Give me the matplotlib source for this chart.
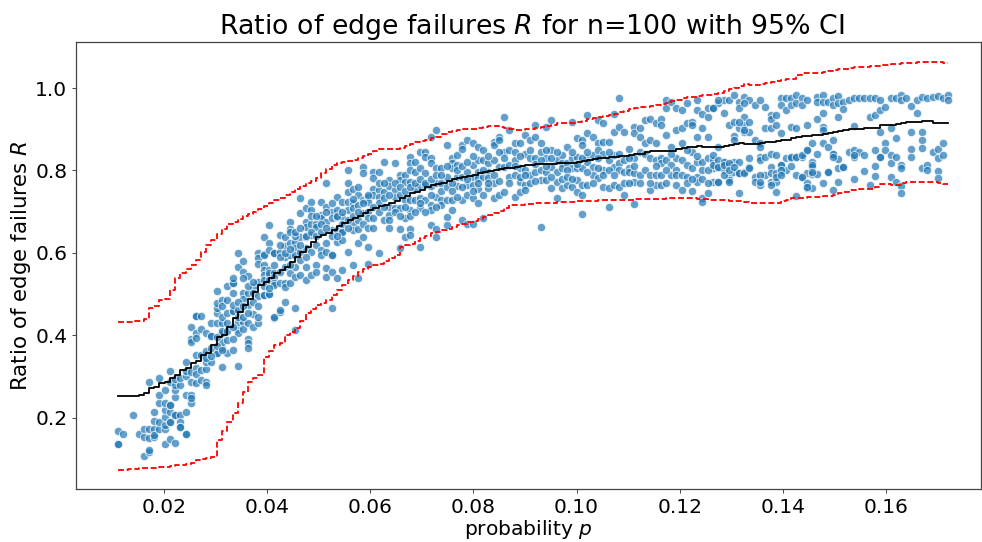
import matplotlib
matplotlib.use("Agg")
import matplotlib.pyplot as plt

p_grid = [
0.0110,0.0120,0.0130,0.0140,0.0151,0.0161,0.0171,0.0181,0.0191,0.0201,
0.0211,0.0221,0.0232,0.0242,0.0252,0.0262,0.0272,0.0282,0.0292,0.0302,
0.0313,0.0323,0.0333,0.0343,0.0353,0.0363,0.0373,0.0383,0.0394,0.0404,
0.0414,0.0424,0.0434,0.0444,0.0454,0.0464,0.0475,0.0485,0.0495,0.0505,
0.0515,0.0525,0.0535,0.0545,0.0556,0.0566,0.0576,0.0586,0.0596,0.0606,
0.0616,0.0626,0.0637,0.0647,0.0657,0.0667,0.0677,0.0687,0.0697,0.0707,
0.0718,0.0728,0.0738,0.0748,0.0758,0.0768,0.0778,0.0788,0.0799,0.0809,
0.0819,0.0829,0.0839,0.0849,0.0859,0.0869,0.0880,0.0890,0.0900,0.0910,
0.0920,0.0930,0.0940,0.0950,0.0961,0.0971,0.0981,0.0991,0.1001,0.1011,
0.1021,0.1031,0.1042,0.1052,0.1062,0.1072,0.1082,0.1092,0.1102,0.1112,
0.1123,0.1133,0.1143,0.1153,0.1163,0.1173,0.1183,0.1193,0.1204,0.1214,
0.1224,0.1234,0.1244,0.1254,0.1264,0.1274,0.1285,0.1295,0.1305,0.1315,
0.1325,0.1335,0.1345,0.1355,0.1366,0.1376,0.1386,0.1396,0.1406,0.1416,
0.1426,0.1436,0.1447,0.1457,0.1467,0.1477,0.1487,0.1497,0.1507,0.1517,
0.1528,0.1538,0.1548,0.1558,0.1568,0.1578,0.1588,0.1598,0.1609,0.1619,
0.1629,0.1639,0.1649,0.1659,0.1669,0.1679,0.1690,0.1700,0.1710,0.1720]

r_cols = [
[.168,.135,.135],[.161],[],[.207],[.160],[.173,.154,.108],[.173,.150,.286,.117,.121],
[.173,.154,.192,.214,.158],[.173,.190,.236,.254,.295],[.173,.182,.202,.219,.236,.267,.136],
[.190,.190,.213,.231,.231,.287,.313,.147],[.206,.249,.267,.279,.293,.139,.206],
[.206,.190,.178,.178,.279,.295],[.161,.161,.214,.254,.301,.312,.336],
[.235,.254,.248,.310,.286,.392,.383,.421],[.320,.305,.285,.351,.406,.394,.447,.447],
[.316,.291,.351,.414,.447],[.317,.287,.278,.361,.336,.406],[.336,.398,.398,.429],
[.358,.358,.429,.453,.465,.479,.508],[.370,.384,.324,.405,.429,.485,.471,.445],
[.356,.388,.429,.455,.485,.519],[.364,.458,.458,.473,.527,.527,.540,.502],
[.325,.414,.405,.433,.461,.600,.566],[.433,.414,.502,.487,.579,.554],
[.430,.390,.380,.370,.502,.473,.544],[.419,.451,.518,.502],[.429,.443,.530,.494,.599,.587,.574],
[.498,.597,.570,.558,.546,.639,.595,.534,.497],[.499,.499,.625,.607,.558,.546,.668,.550,.534],
[.441,.599,.550,.599,.542,.526,.522,.445],[.643,.603,.554,.526,.457,.461],
[.639,.616,.591,.566,.526,.481,.518],[.676,.659,.651,.623,.595,.550,.526],
[.627,.611,.595,.566,.542,.465,.413],[.732,.696,.639,.603,.582,.546],
[.708,.676,.663,.639,.611,.566,.534],[.724,.704,.671,.643,.603,.546],
[.671,.663,.619,.570,.554],[.724,.692,.684,.607,.595],[.769,.712,.676,.623,.603,.562,.542],
[.700,.684,.655,.595,.595,.554,.465],[.736,.704,.688,.655,.627,.538],
[.724,.688,.651,.651,.631,.558],[.801,.769,.748,.724,.704,.603],[.756,.720,.708,.671,.655,.570],
[.740,.716,.680,.659,.623,.538],[.809,.793,.728,.696,.639],[.736,.724,.700,.684,.615,.574],
[.797,.781,.756,.740,.684],[.797,.752,.736,.720,.599],[.821,.748,.732,.680],
[.777,.761,.712,.692,.680],[.817,.752,.736,.708],[.789,.777,.740,.708,.659,.611],
[.789,.773,.728,.684,.639],[.833,.817,.801,.773,.728,.704,.659,.643],[.821,.797,.756,.728],
[.845,.805,.765,.732,.708,.615],[.845,.833,.793,.765,.728],[.882,.829,.817,.761,.716,.704,.667],
[.898,.805,.769,.736,.659,.639],[.805,.769,.728,.716],[.862,.785,.728,.688,.667],
[.829,.817,.805,.728,.704],[.837,.813,.785,.761],[.862,.853,.785,.728,.680],
[.874,.797,.765,.740,.671],[.866,.813,.785,.765,.732,.671],[.858,.825,.797,.781,.756],
[.850,.825,.785,.740,.684],[.817,.797,.781,.757],[.870,.862,.825,.769,.732],
[.882,.874,.809,.740],[.930,.845,.809,.748],[.898,.850,.813,.785],[.866,.825,.789,.736],
[.866,.805,.773,.748],[.886,.841,.801,.765,.752],[.874,.829,.789,.769],[.910,.882,.829,.797],
[.866,.845,.801,.777,.663],[.906,.829,.797,.777],[.922,.850,.809,.757],[.825,.797,.773,.732],
[.837,.817,.805,.757],[.857,.817,.765],[.918,.829,.805,.760],[.878,.833,.805,.777,.748],
[.874,.862,.805,.765,.740,.693],[.934,.890,.829,.821,.765],[.882,.837,.809,.789],
[.922,.866,.850,.781],[.914,.870,.841,.801,.760],[.870,.825,.757,.710],
[.938,.894,.837,.809,.765],[.975,.906,.817,.801,.760],[.894,.797,.740],[.853,.805,.797],
[.906,.890,.829,.793,.773,.718],[.902,.882,.845],[.922,.866,.841],[.926,.874,.829,.752],
[.914,.866,.825,.765],[.926,.910,.829,.817,.765],[.971,.951,.886,.825],[.967,.858,.813,.789],
[.951,.898,.829,.765],[.946,.902,.866,.825,.752],[.963,.914,.813],[.918,.910,.845,.805],
[.971,.946,.882,.821,.785,.773],[.938,.902,.821,.732,.724],[.951,.930,.882,.829,.744],
[.951,.825,.805,.773],[.963,.858,.809,.773],[.971,.939,.821,.801],[.971,.910,.813,.785,.777],
[.983,.918,.821,.797],[.967,.951,.902,.821,.793,.746],[.979,.930,.910,.894,.797],
[.971,.918,.894,.829,.809],[.959,.874,.785,.773],[.971,.866,.858,.833,.825,.765],
[.955,.902,.833,.789],[.934,.926,.902,.841,.809,.773],[.934,.910,.837,.773,.748],
[.975,.959,.890,.813,.797],[.975,.947,.829,.801],[.975,.959,.906,.829,.811],
[.983,.963,.902,.833,.789,.739],[.975,.959,.833,.785],[.972,.910,.849,.793,.757],
[.866,.821,.809,.791,.757],[.979,.967,.926,.841,.791],[.983,.967,.939,.906,.898,.866,.769],
[.967,.858,.797],[.975,.959,.874,.840,.752],[.980,.963,.930,.827,.805,.773],[.967,.948,.809],
[.971,.845],[.975,.908,.849,.833,.778],[.976,.845],[.975,.837,.798],[.976,.930,.764],
[.975,.934,.849,.811,.786],[.971,.947,.894,.833],[.955,.866,.849],[.976,.902,.837,.817,.785],
[.976,.878,.833,.773],[.983,.971,.813,.805,.761,.746],[.976],[.956,.894,.851,.833],[.972,.940],
[.979,.894,.874,.855,.805],[.975,.813,.801],[.979,.845],[.981,.851,.829,.799,.781],
[.975,.866,.837],[.983,.972]]

# further points of the cloud, by column of p_grid
extra_k = [17,18,18,19,19,20,20,21,22,22,23,23,24,24,24,25,25,26,26,27,28,29,30,
31,31,32,33,33,34,34,35,35,36,36,37,37,38,38,39,39,40,40,41,41,42,42,43,43,44,44,45,45,46,46,47,47,48,48,49,49,
50,50,51,51,52,52,53,53,54,54,55,55,56,56,57,57,58,58,59,59,60,60,61,61,62,62,63,63,64,64,65,65,66,66,67,67,68,68,69,69,
70,71,71,72,73,73,74,75,76,76,77,77,78,79,80,80,81,82,82,83,83,84,85,86,86,87,87,88,89,90,90,91,92,92,93,94,94,95,96,97,97,98,98,99,
100,100,101,102,102,103,103,104,105,105,106,107,107,108,109,109,109,110,110,111,112,112,113,113,
114,114,114,115,115,115,115,116,116,116,117,117,117,118,118,118,119,119,120,120,120,121,123,123,125,125,126,126,127,127,127,
129,130,131,131,132,132,132,133,133,136,137,137,139,141,146]
extra_r = [.345,.350,.370,.395,.375,.410,.365,.410,.420,.390,.445,.480,.470,.445,.540,.520,.455,.480,.530,.470,.520,.515,.570,
.590,.620,.600,.610,.570,.640,.650,.620,.660,.590,.640,.690,.650,.640,.690,.650,.670,.660,.700,.640,.720,.690,.640,.700,.670,.660,.680,.690,.730,.700,.760,.720,.670,.740,.660,.710,.660,
.700,.770,.710,.770,.740,.660,.700,.770,.690,.760,.710,.750,.760,.690,.700,.770,.780,.720,.770,.700,.780,.740,.790,.710,.750,.790,.760,.810,.770,.750,.735,.800,.760,.810,.820,.780,.750,.835,.770,.720,
.800,.835,.770,.790,.775,.845,.830,.770,.845,.810,.835,.785,.790,.850,.815,.775,.825,.850,.810,.830,.785,.845,.780,.800,.785,.845,.780,.815,.830,.795,.845,.770,.830,.805,.790,.845,.800,.790,.840,.825,.770,.830,.770,.810,
.790,.770,.800,.790,.770,.810,.790,.790,.800,.770,.840,.800,.790,.790,.850,.785,.770,.780,.750,.835,.800,.780,.800,.770,
.951,.837,.813,.971,.825,.809,.773,.821,.813,.789,.817,.801,.773,.884,.874,.809,.918,.793,.963,.898,.793,.805,.789,.773,.793,.765,.793,.785,.813,.801,.789,
.833,.833,.837,.785,.849,.769,.760,.813,.797,.797,.841,.833,.809,.837,.833]

mean_r = [
.252,.252,.253,.253,.254,.259,.271,.274,.283,.287,.295,.303,.315,.320,.332,.338,.352,.358,.376,.396,
.400,.421,.441,.457,.473,.489,.506,.522,.530,.538,.550,.558,.566,.578,.591,.603,.615,.627,.639,.643,
.647,.656,.665,.673,.680,.685,.689,.697,.704,.709,.714,.717,.720,.726,.732,.738,.744,.748,.752,.759,
.765,.768,.770,.775,.779,.782,.785,.787,.789,.793,.797,.799,.801,.803,.805,.807,.809,.810,.812,.814,
.815,.815,.816,.816,.817,.818,.818,.819,.820,.822,.825,.827,.829,.831,.832,.833,.835,.836,.837,.839,
.841,.844,.846,.846,.847,.847,.848,.851,.854,.856,.858,.859,.858,.857,.857,.858,.859,.862,.864,.866,
.865,.864,.864,.866,.868,.870,.872,.874,.875,.878,.882,.883,.884,.885,.886,.889,.892,.894,.896,.898,
.900,.901,.901,.902,.903,.904,.910,.910,.911,.913,.915,.917,.918,.918,.919,.919,.916,.916,.916,.916]

upper_r = [
.433,.433,.433,.434,.435,.439,.465,.470,.485,.487,.510,.538,.550,.560,.570,.582,.603,.619,.631,.645,
.658,.670,.676,.682,.689,.695,.700,.706,.714,.721,.728,.734,.740,.748,.756,.762,.769,.775,.781,.793,
.803,.813,.817,.820,.824,.826,.829,.835,.841,.847,.853,.853,.852,.852,.855,.859,.863,.868,.872,.875,
.879,.882,.888,.894,.896,.898,.900,.900,.900,.903,.905,.907,.908,.905,.902,.900,.898,.899,.900,.901,
.902,.905,.908,.911,.914,.914,.914,.914,.918,.921,.924,.927,.929,.932,.934,.938,.942,.945,.948,.951,
.953,.955,.957,.959,.961,.964,.968,.972,.975,.977,.979,.981,.983,.984,.985,.989,.993,.997,1.001,1.005,
1.009,1.008,1.007,1.009,1.012,1.014,1.017,1.020,1.022,1.023,1.032,1.036,1.036,1.036,1.036,1.038,1.041,1.043,1.045,1.047,
1.049,1.050,1.051,1.052,1.053,1.054,1.055,1.057,1.058,1.059,1.060,1.061,1.061,1.062,1.063,1.064,1.063,1.062,1.061,1.061]

lower_r = [
.073,.074,.075,.076,.077,.078,.077,.077,.079,.081,.083,.084,.086,.087,.091,.097,.100,.102,.104,.146,
.168,.190,.212,.235,.263,.287,.295,.303,.348,.362,.376,.382,.400,.408,.417,.435,.453,.463,.473,.479,
.485,.498,.510,.522,.534,.544,.554,.560,.566,.570,.574,.581,.588,.595,.615,.618,.621,.628,.635,.641,
.647,.651,.655,.659,.663,.667,.671,.675,.678,.683,.688,.692,.696,.702,.708,.716,.716,.717,.718,.719,
.720,.721,.722,.722,.723,.723,.724,.724,.725,.725,.726,.726,.727,.727,.728,.728,.728,.729,.729,.730,
.730,.730,.731,.731,.731,.732,.732,.732,.732,.732,.732,.731,.730,.729,.728,.727,.727,.726,.726,.725,
.723,.721,.720,.720,.721,.721,.722,.725,.729,.732,.733,.734,.735,.736,.736,.737,.739,.740,.744,.748,
.752,.753,.754,.755,.755,.760,.766,.766,.765,.765,.769,.773,.773,.773,.773,.773,.771,.770,.768,.767]

x_ticks = [0.02,0.04,0.06,0.08,0.10,0.12,0.14,0.16]
y_ticks = [0.2,0.4,0.6,0.8,1.0]

p_pts = [p for p, col in zip(p_grid, r_cols) for _ in col] + [p_grid[k] for k in extra_k]
r_pts = [r for col in r_cols for r in col] + extra_r

fig = plt.figure(figsize=(9.82, 5.42), dpi=100)
ax = fig.add_axes([76/982, 1-489/542, (981-76)/982, (489-42)/542])
ax.scatter(p_pts, r_pts, s=36, color="#1f77b4", alpha=0.7, edgecolor="white", linewidth=0.75, zorder=2)
ax.plot(p_grid, mean_r, color="black", lw=1.3, drawstyle="steps-post", zorder=3)
ax.plot(p_grid, upper_r, color="red", lw=1.3, dashes=(3.3, 1.5), drawstyle="steps-post", zorder=3)
ax.plot(p_grid, lower_r, color="red", lw=1.3, dashes=(3.3, 1.5), drawstyle="steps-post", zorder=3)
ax.set_xlim(0.00294, 0.1784)
ax.set_ylim(0.0267, 1.1117)
ax.set_xticks(x_ticks)
ax.set_xticklabels([f"{v:.2f}" for v in x_ticks])
ax.set_yticks(y_ticks)
ax.set_yticklabels([f"{v:.1f}" for v in y_ticks])
ax.tick_params(labelsize=14.5, length=2.7, width=0.7, color="#444444", pad=3.5)
for s in ax.spines.values():
    s.set_linewidth(0.9)
    s.set_color("#444444")
ax.set_xlabel("probability $p$", fontsize=14.6)
ax.xaxis.set_label_coords(0.5, -0.0895, transform=ax.transAxes)
ax.xaxis.label.set_verticalalignment("center")
ax.set_ylabel("Ratio of edge failures $R$", fontsize=15.4)
ax.yaxis.set_label_coords(-0.048, 0.5, transform=ax.transAxes)
ax.set_title("Ratio of edge failures $R$ for n=100 with 95% CI", fontsize=19.3, pad=5, x=0.503)
fig.savefig("out.png", dpi=100)
